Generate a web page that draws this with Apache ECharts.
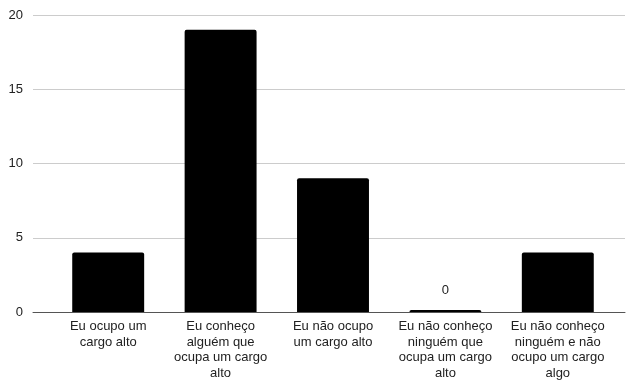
<!DOCTYPE html>
<html>
<head>
<meta charset="utf-8">
<script src="https://cdn.jsdelivr.net/npm/echarts@6/dist/echarts.min.js"></script>
<style>
  html, body { margin: 0; padding: 0; background: #fff; }
  #chart { width: 626px; height: 383px; }
</style>
</head>
<body>
<div id="chart"></div>
<script>
const categories = [
  'Eu ocupo um\ncargo alto',
  'Eu conheço\nalguém que\nocupa um cargo\nalto',
  'Eu não ocupo\num cargo alto',
  'Eu não conheço\nninguém que\nocupa um cargo\nalto',
  'Eu não conheço\nninguém e não\nocupo um cargo\nalgo'
]
const values = [4, 19, 9, 0, 4]
const yTicks = { min: 0, max: 20, interval: 5 }

const font = 'Liberation Sans, Arial, sans-serif'
const textColor = '#222'

const chart = echarts.init(document.getElementById('chart'), null, { renderer: 'canvas' })
chart.setOption({
  animation: false,
  grid: [
    { left: 33, right: 1, top: 15, bottom: 71 },
    { left: 52, right: 12, top: 15, bottom: 71 },
  ],
  xAxis: [
    {
      gridIndex: 0,
      type: 'category',
      data: categories,
      axisLine: { lineStyle: { color: '#555', width: 1 } },
      axisTick: { show: false },
      axisLabel: { show: false },
    },
    {
      gridIndex: 1,
      type: 'category',
      data: categories,
      axisLine: { show: false },
      axisTick: { show: false },
      axisLabel: {
        margin: 7,
        color: textColor,
        fontFamily: font,
        fontSize: 13,
        lineHeight: 15.5,
        interval: 0,
      },
    },
  ],
  yAxis: [
    {
      gridIndex: 0,
      type: 'value',
      min: yTicks.min,
      max: yTicks.max,
      interval: yTicks.interval,
      axisLine: { show: false },
      axisTick: { show: false },
      axisLabel: { margin: 10, color: textColor, fontFamily: font, fontSize: 13 },
      splitLine: { lineStyle: { color: '#cccccc', width: 1 } },
    },
    {
      gridIndex: 1,
      type: 'value',
      min: yTicks.min,
      max: yTicks.max,
      show: false,
    },
  ],
  series: [
    {
      type: 'bar',
      xAxisIndex: 1,
      yAxisIndex: 1,
      barWidth: '64%',
      barMinHeight: 2,
      itemStyle: { color: '#000', borderRadius: [2, 2, 0, 0] },
      data: values.map(v => v === 0
        ? { value: v, label: { show: true, position: 'top', distance: 13, color: textColor, fontFamily: font, fontSize: 13 } }
        : v),
    },
  ],
})
</script>
</body>
</html>
